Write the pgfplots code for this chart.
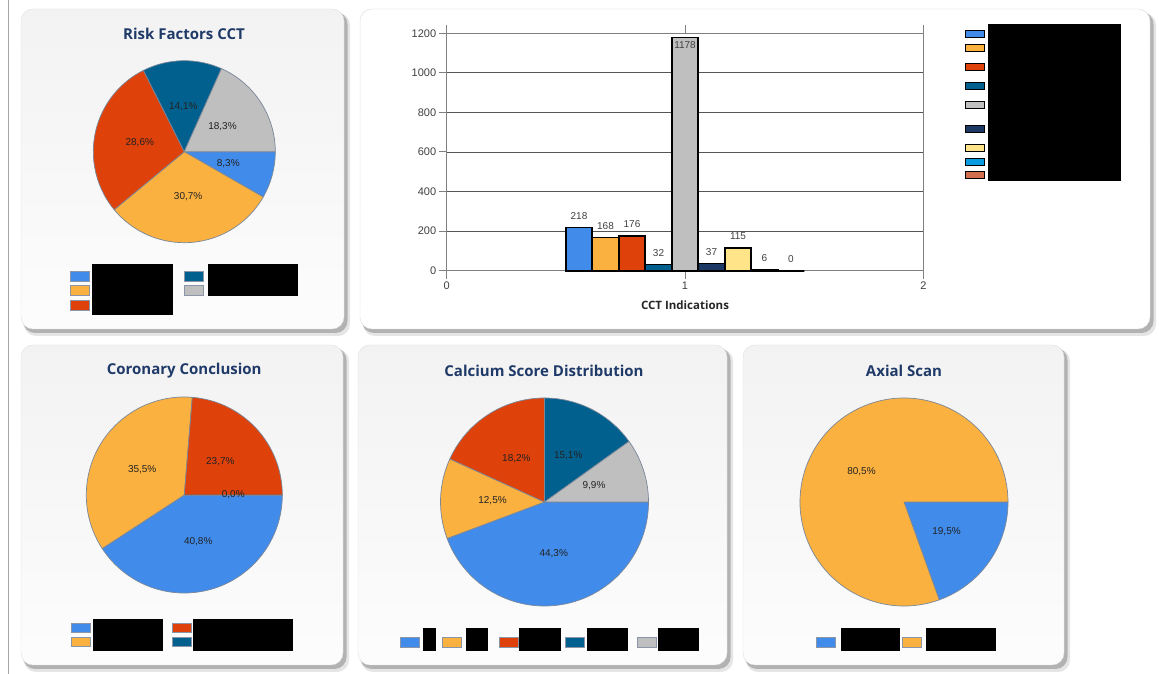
\documentclass[border=0pt]{standalone}
\usepackage{pgfplots}
\pgfplotsset{compat=1.18}
\usepackage{fontspec}
\setmainfont{Liberation Sans}
\newfontfamily\titlefont{Open Sans}
\definecolor{pblue}{HTML}{418BEA}
\definecolor{porange}{HTML}{FBB140}
\definecolor{pred}{HTML}{DE410A}
\definecolor{pteal}{HTML}{02608E}
\definecolor{pgrey}{HTML}{BFBFBF}
\definecolor{pnavy}{HTML}{1C3966}
\definecolor{pyellow}{HTML}{FFE48A}
\definecolor{pcyan}{HTML}{0A9BE0}
\definecolor{psalmon}{HTML}{D36E4E}
\definecolor{slicedge}{HTML}{7A8799}
\definecolor{titlec}{HTML}{1F3A68}
\definecolor{pietext}{HTML}{222222}
\definecolor{gridc}{HTML}{555555}
\definecolor{axc}{HTML}{808080}
\definecolor{ticklab}{HTML}{404040}
\definecolor{swb}{HTML}{8A96A8}
\newcommand\pielabfont{\fontsize{10}{12}\selectfont}
\newcommand\piestart[1]{\gdef\pieang{0}\gdef\pielabels{}\gdef\pierad{#1}}
\newcommand\pieslice[3]{%
  \pgfmathsetmacro\PSa{\pieang}%
  \pgfmathsetmacro\PSb{\pieang-3.6*#1}%
  \pgfmathsetmacro\PSm{(\PSa+\PSb)/2}%
  \pgfmathsetmacro\PScx{cos(\PSa)}%
  \pgfmathsetmacro\PScy{sin(\PSa)}%
  \pgfmathsetmacro\PSlx{0.5*cos(\PSm)}%
  \pgfmathsetmacro\PSly{0.5*sin(\PSm)}%
  \edef\PStemp{\noexpand\fill[#2, draw=slicedge, line width=0.7pt, line join=round] (axis cs:0,0) -- (axis cs:\PScx,\PScy) arc[start angle=\PSa, end angle=\PSb, radius=\pierad] -- cycle;}%
  \PStemp
  \edef\PSnew{\noexpand\node[font=\noexpand\pielabfont, text=pietext] at (axis cs:\PSlx,\PSly) {#3};}%
  \xdef\pielabels{\unexpanded\expandafter{\pielabels}\unexpanded\expandafter{\PSnew}}%
  \xdef\pieang{\PSb}%
}
\pgfplotsset{pieaxis/.style={anchor=center, scale only axis, width=#1, height=#1,
  xmin=-1, xmax=1, ymin=-1, ymax=1, hide axis, clip=false}}
\newcommand\panel[4]{%
  \fill[rounded corners=12pt, black!10] (#1+3,#2+4) rectangle (#3+6,#4+7);
  \fill[rounded corners=12pt, black!30] (#1+2,#2+3) rectangle (#3+3.5,#4+4);
  \shade[rounded corners=12pt, top color=black!5, bottom color=black!1, draw=black!12] (#1,#2) rectangle (#3,#4);
}
\newcommand\sw[3]{\fill[#3, draw=swb, line width=0.8pt] (#1,#2) rectangle ++(19,9.5);}
\newcommand\bsw[3]{\fill[#3, draw=black, line width=1.3pt] (#1,#2) rectangle ++(19,7);}
\newcommand\ptitle[3]{\node[font=\titlefont\bfseries\fontsize{15}{17}\selectfont, text=titlec] at (#1,#2) {#3};}
\begin{document}
\begin{tikzpicture}[x=1pt,y=1pt]
\useasboundingbox (0,0) rectangle (1159,674);
\fill[white] (0,0) rectangle (1159,674);
\coordinate (c1) at (184.3,522.3);
\coordinate (c2) at (184.3,179);
\coordinate (c3) at (544.5,172);
\coordinate (c4) at (904,172);
\coordinate (cb) at (446.7,403.3);
\begin{scope}[shift={(0,674)}, yscale=-1]
\draw[black!35, line width=1.5pt] (8.5,0) -- (8.5,674);
\panel{21}{9}{344}{329}
\panel{360}{9}{1150}{329}
\panel{21}{345}{343}{665}
\panel{358}{345}{727}{665}
\panel{743}{345}{1064}{665}
\fill[white, rounded corners=12pt] (360.5,9.5) rectangle (1149.5,328.5);
\ptitle{184}{34}{Risk Factors CCT}
\ptitle{184.2}{371}{Coronary Conclusion}
\ptitle{544}{371}{Calcium Score Distribution}
\ptitle{904}{371}{Axial Scan}
% legends pie 1
\sw{70.5}{271.5}{pblue}\sw{70.5}{285.5}{porange}\sw{70.5}{300.5}{pred}
\sw{184}{271.5}{pteal}\sw{184}{285.5}{pgrey}
\fill[black] (92.3,264) rectangle (172.7,315);
\fill[black] (207.7,264) rectangle (297.7,296);
% legend coronary
\sw{71.7}{623}{pblue}\sw{71.7}{637}{porange}
\sw{172.3}{623}{pred}\sw{172.3}{637}{pteal}
\fill[black] (92.7,619) rectangle (163,650.7);
\fill[black] (193.3,619) rectangle (293,650.7);
% legend calcium
\sw{400}{637.5}{pblue}\sw{442.7}{637.5}{porange}\sw{499}{637.5}{pred}\sw{565.7}{637.5}{pteal}\sw{637.3}{637.5}{pgrey}
\fill[black] (423.3,628.3) rectangle (436,650.7);
\fill[black] (466,628.3) rectangle (488.3,650.7);
\fill[black] (519,628.3) rectangle (560.7,650.7);
\fill[black] (586.7,628.3) rectangle (627.7,650.7);
\fill[black] (658.3,628.3) rectangle (699.3,650.7);
% legend axial
\sw{816}{637.5}{pblue}\sw{902.7}{637.5}{porange}
\fill[black] (840.7,628.3) rectangle (900,650.7);
\fill[black] (926,628.3) rectangle (996,650.7);
% bar legend
\bsw{965.5}{30.8}{pblue}
\bsw{965.5}{44.2}{porange}
\bsw{965.5}{63.2}{pred}
\bsw{965.5}{82.5}{pteal}
\bsw{965.5}{101.5}{pgrey}
\bsw{965.5}{125.8}{pnavy}
\bsw{965.5}{144.5}{pyellow}
\bsw{965.5}{158.2}{pcyan}
\bsw{965.5}{171.5}{psalmon}
\fill[black] (988.3,24) rectangle (1120.7,180.7);
\end{scope}

% Pie 1: Risk Factors CCT
\begin{axis}[pieaxis=182pt, at={(c1)}]
\piestart{91pt}
\pieslice{8.3}{pblue}{8,3\%}
\pieslice{30.7}{porange}{30,7\%}
\pieslice{28.6}{pred}{28,6\%}
\pieslice{14.1}{pteal}{14,1\%}
\pieslice{18.3}{pgrey}{18,3\%}
\pielabels
\end{axis}

% Pie 2: Coronary Conclusion
\begin{axis}[pieaxis=196pt, at={(c2)}]
\piestart{98pt}
\pieslice{40.8}{pblue}{40,8\%}
\pieslice{35.5}{porange}{35,5\%}
\pieslice{23.7}{pred}{23,7\%}
\pieslice{0.0}{pteal}{0,0\%}
\pielabels
\end{axis}

% Pie 3: Calcium Score Distribution
\begin{axis}[pieaxis=208pt, at={(c3)}]
\piestart{104pt}
\pieslice{44.3}{pblue}{44,3\%}
\pieslice{12.5}{porange}{12,5\%}
\pieslice{18.2}{pred}{18,2\%}
\pieslice{15.1}{pteal}{15,1\%}
\pieslice{9.9}{pgrey}{9,9\%}
\pielabels
\end{axis}

% Pie 4: Axial Scan
\begin{axis}[pieaxis=208pt, at={(c4)}]
\piestart{104pt}
\pieslice{19.5}{pblue}{19,5\%}
\pieslice{80.5}{porange}{80,5\%}
\pielabels
\end{axis}

% Bar chart
\begin{axis}[at={(cb)}, anchor=south west, scale only axis,
  width=476.6pt, height=237.4pt,
  xmin=0, xmax=2, ymin=0, ymax=1200,
  xtick={0,1,2}, ytick={0,200,...,1200},
  ymajorgrids, grid style={draw=gridc, line width=0.9pt},
  axis line style={draw=axc, line width=1.2pt},
  tick style={draw=axc, line width=1pt}, tick align=outside, major tick length=8pt,
  ytick pos=left, xtick pos=both,
  ybar=0pt, bar width=26.5pt,
  every axis plot/.append style={draw=black, line width=1.7pt},
  /pgf/number format/assume math mode=true,
  /pgf/number format/1000 sep={},
  tick label style={font=\fontsize{11}{13}\selectfont, text=ticklab},
  yticklabel style={xshift=1pt},
  xlabel={CCT Indications},
  xlabel style={font=\titlefont\bfseries\fontsize{11.5}{13}\selectfont, text=black!85, yshift=-4pt},
  nodes near coords,
  nodes near coords style={font=\fontsize{10}{12}\selectfont, text=ticklab, yshift=4pt},
  clip=false]
\addplot[fill=pblue] coordinates {(1,218)};
\addplot[fill=porange] coordinates {(1,168)};
\addplot[fill=pred] coordinates {(1,176)};
\addplot[fill=pteal] coordinates {(1,32)};
\addplot[fill=pgrey, nodes near coords style={anchor=north, yshift=-4pt}] coordinates {(1,1178)};
\addplot[fill=pnavy] coordinates {(1,37)};
\addplot[fill=pyellow] coordinates {(1,115)};
\addplot[fill=pcyan] coordinates {(1,6)};
\addplot[fill=psalmon] coordinates {(1,0)};
\end{axis}
\end{tikzpicture}
\end{document}
